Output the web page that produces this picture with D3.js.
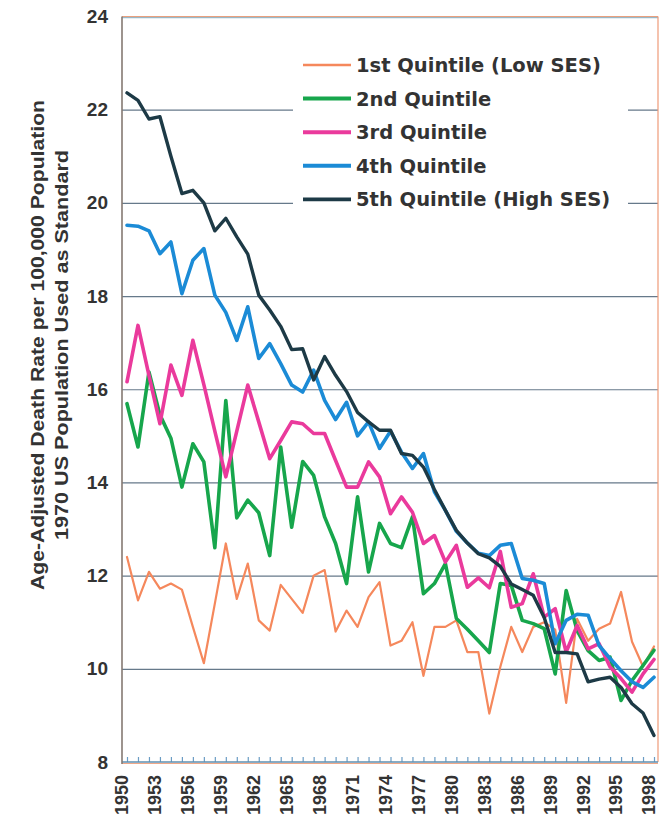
<!DOCTYPE html>
<html>
<head>
<meta charset="utf-8">
<script src="https://cdn.jsdelivr.net/npm/d3@7/dist/d3.min.js"></script>
<style>
  html, body { margin: 0; padding: 0; background: #fff; }
  svg { display: block; }
  text { font-family: "Liberation Sans", Arial, sans-serif; font-weight: bold; fill: #333; }
</style>
</head>
<body>
<svg id="chart" width="659" height="827"></svg>
<script>
// Years 1950–1998
const years = d3.range(1950, 1999);

// Age-adjusted death rates per 100,000 by SES quintile
const q1 = [12.4, 11.47, 12.08, 11.72, 11.83, 11.7, 10.9, 10.12, 11.4, 12.69,
            11.5, 12.26, 11.04, 10.82, 11.8, 11.5, 11.2, 12.0, 12.12, 10.8,
            11.25, 10.9, 11.54, 11.86, 10.5, 10.6, 11.0, 9.85, 10.9, 10.9,
            11.04, 10.36, 10.36, 9.04, 10.04, 10.9, 10.36, 10.9, 11.0, 10.84,
            9.27, 11.07, 10.6, 10.86, 10.97, 11.65, 10.58, 10.05, 10.48];
const q2 = [15.69, 14.76, 16.37, 15.45, 14.95, 13.9, 14.83, 14.44, 12.6, 15.76,
            13.24, 13.62, 13.35, 12.43, 14.76, 13.04, 14.45, 14.15, 13.26, 12.69,
            11.83, 13.69, 12.08, 13.12, 12.69, 12.6, 13.26, 11.61, 11.83, 12.26,
            11.08, 10.85, 10.6, 10.35, 11.83, 11.79, 11.04, 10.97, 10.86, 9.89,
            11.68, 10.82, 10.39, 10.18, 10.25, 9.32, 9.75, 10.07, 10.4];
const q3 = [16.16, 17.37, 16.3, 15.26, 16.52, 15.87, 17.05, 16.1, 15.1, 14.12,
            15.1, 16.09, 15.3, 14.51, 14.9, 15.3, 15.26, 15.05, 15.05, 14.47,
            13.9, 13.9, 14.44, 14.12, 13.33, 13.69, 13.36, 12.69, 12.86, 12.29,
            12.65, 11.75, 11.95, 11.74, 12.52, 11.32, 11.4, 12.04, 11.11, 11.29,
            10.36, 10.93, 10.43, 10.54, 10.04, 9.79, 9.5, 9.89, 10.2];
const q4 = [19.52, 19.5, 19.4, 18.91, 19.16, 18.05, 18.77, 19.02, 18.02, 17.65,
            17.05, 17.77, 16.66, 16.98, 16.55, 16.09, 15.94, 16.41, 15.76, 15.35,
            15.72, 15.0, 15.3, 14.73, 15.1, 14.65, 14.3, 14.62, 13.8, 13.4,
            12.95, 12.7, 12.48, 12.43, 12.65, 12.69, 11.94, 11.9, 11.83, 10.54,
            11.04, 11.17, 11.15, 10.5, 10.22, 9.96, 9.72, 9.6, 9.82];
const q5 = [22.36, 22.2, 21.8, 21.85, 21.0, 20.2, 20.27, 20.0, 19.4, 19.67,
            19.27, 18.9, 18.02, 17.7, 17.35, 16.85, 16.87, 16.2, 16.7, 16.3,
            15.95, 15.5, 15.3, 15.12, 15.12, 14.62, 14.58, 14.33, 13.85, 13.4,
            12.97, 12.7, 12.47, 12.38, 12.2, 11.82, 11.7, 11.58, 11.1, 10.35,
            10.35, 10.32, 9.72, 9.78, 9.82, 9.6, 9.25, 9.05, 8.57];

const seriesNames = ["1st Quintile (Low SES)", "2nd Quintile", "3rd Quintile",
                     "4th Quintile", "5th Quintile (High SES)"];
const seriesValues = [q1, q2, q3, q4, q5];
const seriesColors = ["#f5885c", "#17a64c", "#ea3a9c", "#1b8bd6", "#1d3a46"];
const seriesWidths = [2.2, 3.6, 3.6, 3.6, 3.4];

const yTicks = d3.range(8, 25, 2);
const xTickYears = d3.range(1950, 1999, 3);
const yTitleLines = ["Age-Adjusted Death Rate per 100,000 Population",
                     "1970 US Population Used as Standard"];

const svg = d3.select("#chart");

// Plot frame
const plotLeft = 122, plotRight = 658, plotTop = 16.5, plotBottom = 762;
const x = d3.scaleLinear().domain([1950, 1998]).range([127, 654]);
const y = d3.scaleLinear().domain([8, 24]).range([plotBottom, plotTop]);

// Horizontal gridlines
svg.append("g")
  .attr("transform", `translate(${plotLeft},0)`)
  .call(d3.axisRight(y).tickValues(yTicks.filter(v => v > 8 && v < 24))
        .tickSize(plotRight - plotLeft).tickFormat(""))
  .call(g => g.select(".domain").remove())
  .call(g => g.selectAll("line").attr("stroke", "#66798a").attr("stroke-width", 1.2));

// Top and right frame lines
svg.append("line").attr("x1", plotLeft).attr("x2", plotRight).attr("y1", plotTop).attr("y2", plotTop)
  .attr("stroke", "#e9a07e").attr("stroke-width", 1.2);
svg.append("line").attr("x1", plotLeft).attr("x2", plotRight).attr("y1", plotTop + 1.2).attr("y2", plotTop + 1.2)
  .attr("stroke", "#5f8fa8").attr("stroke-width", 0.8);
svg.append("line").attr("x1", plotRight).attr("x2", plotRight).attr("y1", plotTop).attr("y2", plotBottom)
  .attr("stroke", "#ef9a78").attr("stroke-width", 1.2);

// Legend background hides gridlines behind it
svg.append("rect").attr("x", 293).attr("y", 36).attr("width", 335).attr("height", 188)
  .attr("fill", "#fff");

// Minor yearly ticks along the bottom axis
svg.append("g")
  .attr("transform", `translate(0,${plotBottom})`)
  .call(d3.axisTop(x).tickValues(years).tickSize(5).tickFormat(""))
  .call(g => g.select(".domain").remove())
  .call(g => g.selectAll("line").attr("stroke", "#6a9cc4").attr("stroke-width", 1.2));

// Bottom axis line
svg.append("line").attr("x1", plotLeft).attr("x2", plotRight).attr("y1", plotBottom).attr("y2", plotBottom)
  .attr("stroke", "#5f8fb0").attr("stroke-width", 1.4);
svg.append("line").attr("x1", plotLeft).attr("x2", plotRight).attr("y1", plotBottom + 1.5).attr("y2", plotBottom + 1.5)
  .attr("stroke", "#f0a888").attr("stroke-width", 1);

// Left axis line
svg.append("line").attr("x1", plotLeft).attr("x2", plotLeft).attr("y1", plotTop).attr("y2", plotBottom + 2)
  .attr("stroke", "#857972").attr("stroke-width", 1.6);

// Y tick labels
svg.append("g")
  .attr("transform", `translate(${plotLeft},0)`)
  .call(d3.axisLeft(y).tickValues(yTicks).tickSize(0).tickPadding(14).tickFormat(d3.format("d")))
  .call(g => g.select(".domain").remove())
  .call(g => g.selectAll("text")
        .style("font-family", "'Liberation Sans', Arial, sans-serif")
        .style("font-weight", "bold").attr("font-size", 19).attr("fill", "#333"));

// X tick labels (rotated)
svg.append("g")
  .attr("transform", `translate(0,${plotBottom})`)
  .call(d3.axisBottom(x).tickValues(xTickYears).tickSize(0).tickFormat(d3.format("d")))
  .call(g => g.select(".domain").remove())
  .call(g => g.selectAll("text")
        .style("font-family", "'Liberation Sans', Arial, sans-serif")
        .style("font-weight", "bold").attr("font-size", 18).attr("fill", "#333")
        .attr("text-anchor", "end")
        .attr("transform", "rotate(-90)")
        .attr("x", -13).attr("y", 0).attr("dy", "0.05em"));

// Y axis title (two lines, rotated)
svg.append("g").selectAll("text")
  .data(yTitleLines)
  .join("text")
  .attr("transform", (d, i) => `translate(${44 + i * 24},345) rotate(-90)`)
  .attr("text-anchor", "middle")
  .attr("font-size", 19)
  .attr("textLength", (d, i) => i === 0 ? 490 : 390)
  .attr("lengthAdjust", "spacingAndGlyphs")
  .text(d => d);

// Series lines
const line = d3.line().x((d, i) => x(years[i])).y(d => y(d));
svg.append("g").selectAll("path")
  .data(seriesValues)
  .join("path")
  .attr("d", d => line(d))
  .attr("fill", "none")
  .attr("stroke", (d, i) => seriesColors[i])
  .attr("stroke-width", (d, i) => seriesWidths[i])
  .attr("stroke-linejoin", "round")
  .attr("stroke-linecap", "round");

// Legend
const legend = svg.append("g");
seriesNames.forEach((name, i) => {
  const yy = 65 + i * 33.6;
  legend.append("line").attr("x1", 303).attr("x2", 351).attr("y1", yy).attr("y2", yy)
    .attr("stroke", seriesColors[i]).attr("stroke-width", seriesWidths[i] + 0.4);
  legend.append("text").attr("x", 356).attr("y", yy).attr("dy", "0.36em")
    .style("font-family", "'DejaVu Sans', sans-serif")
    .attr("font-size", 19.5).text(name);
});
</script>
</body>
</html>
